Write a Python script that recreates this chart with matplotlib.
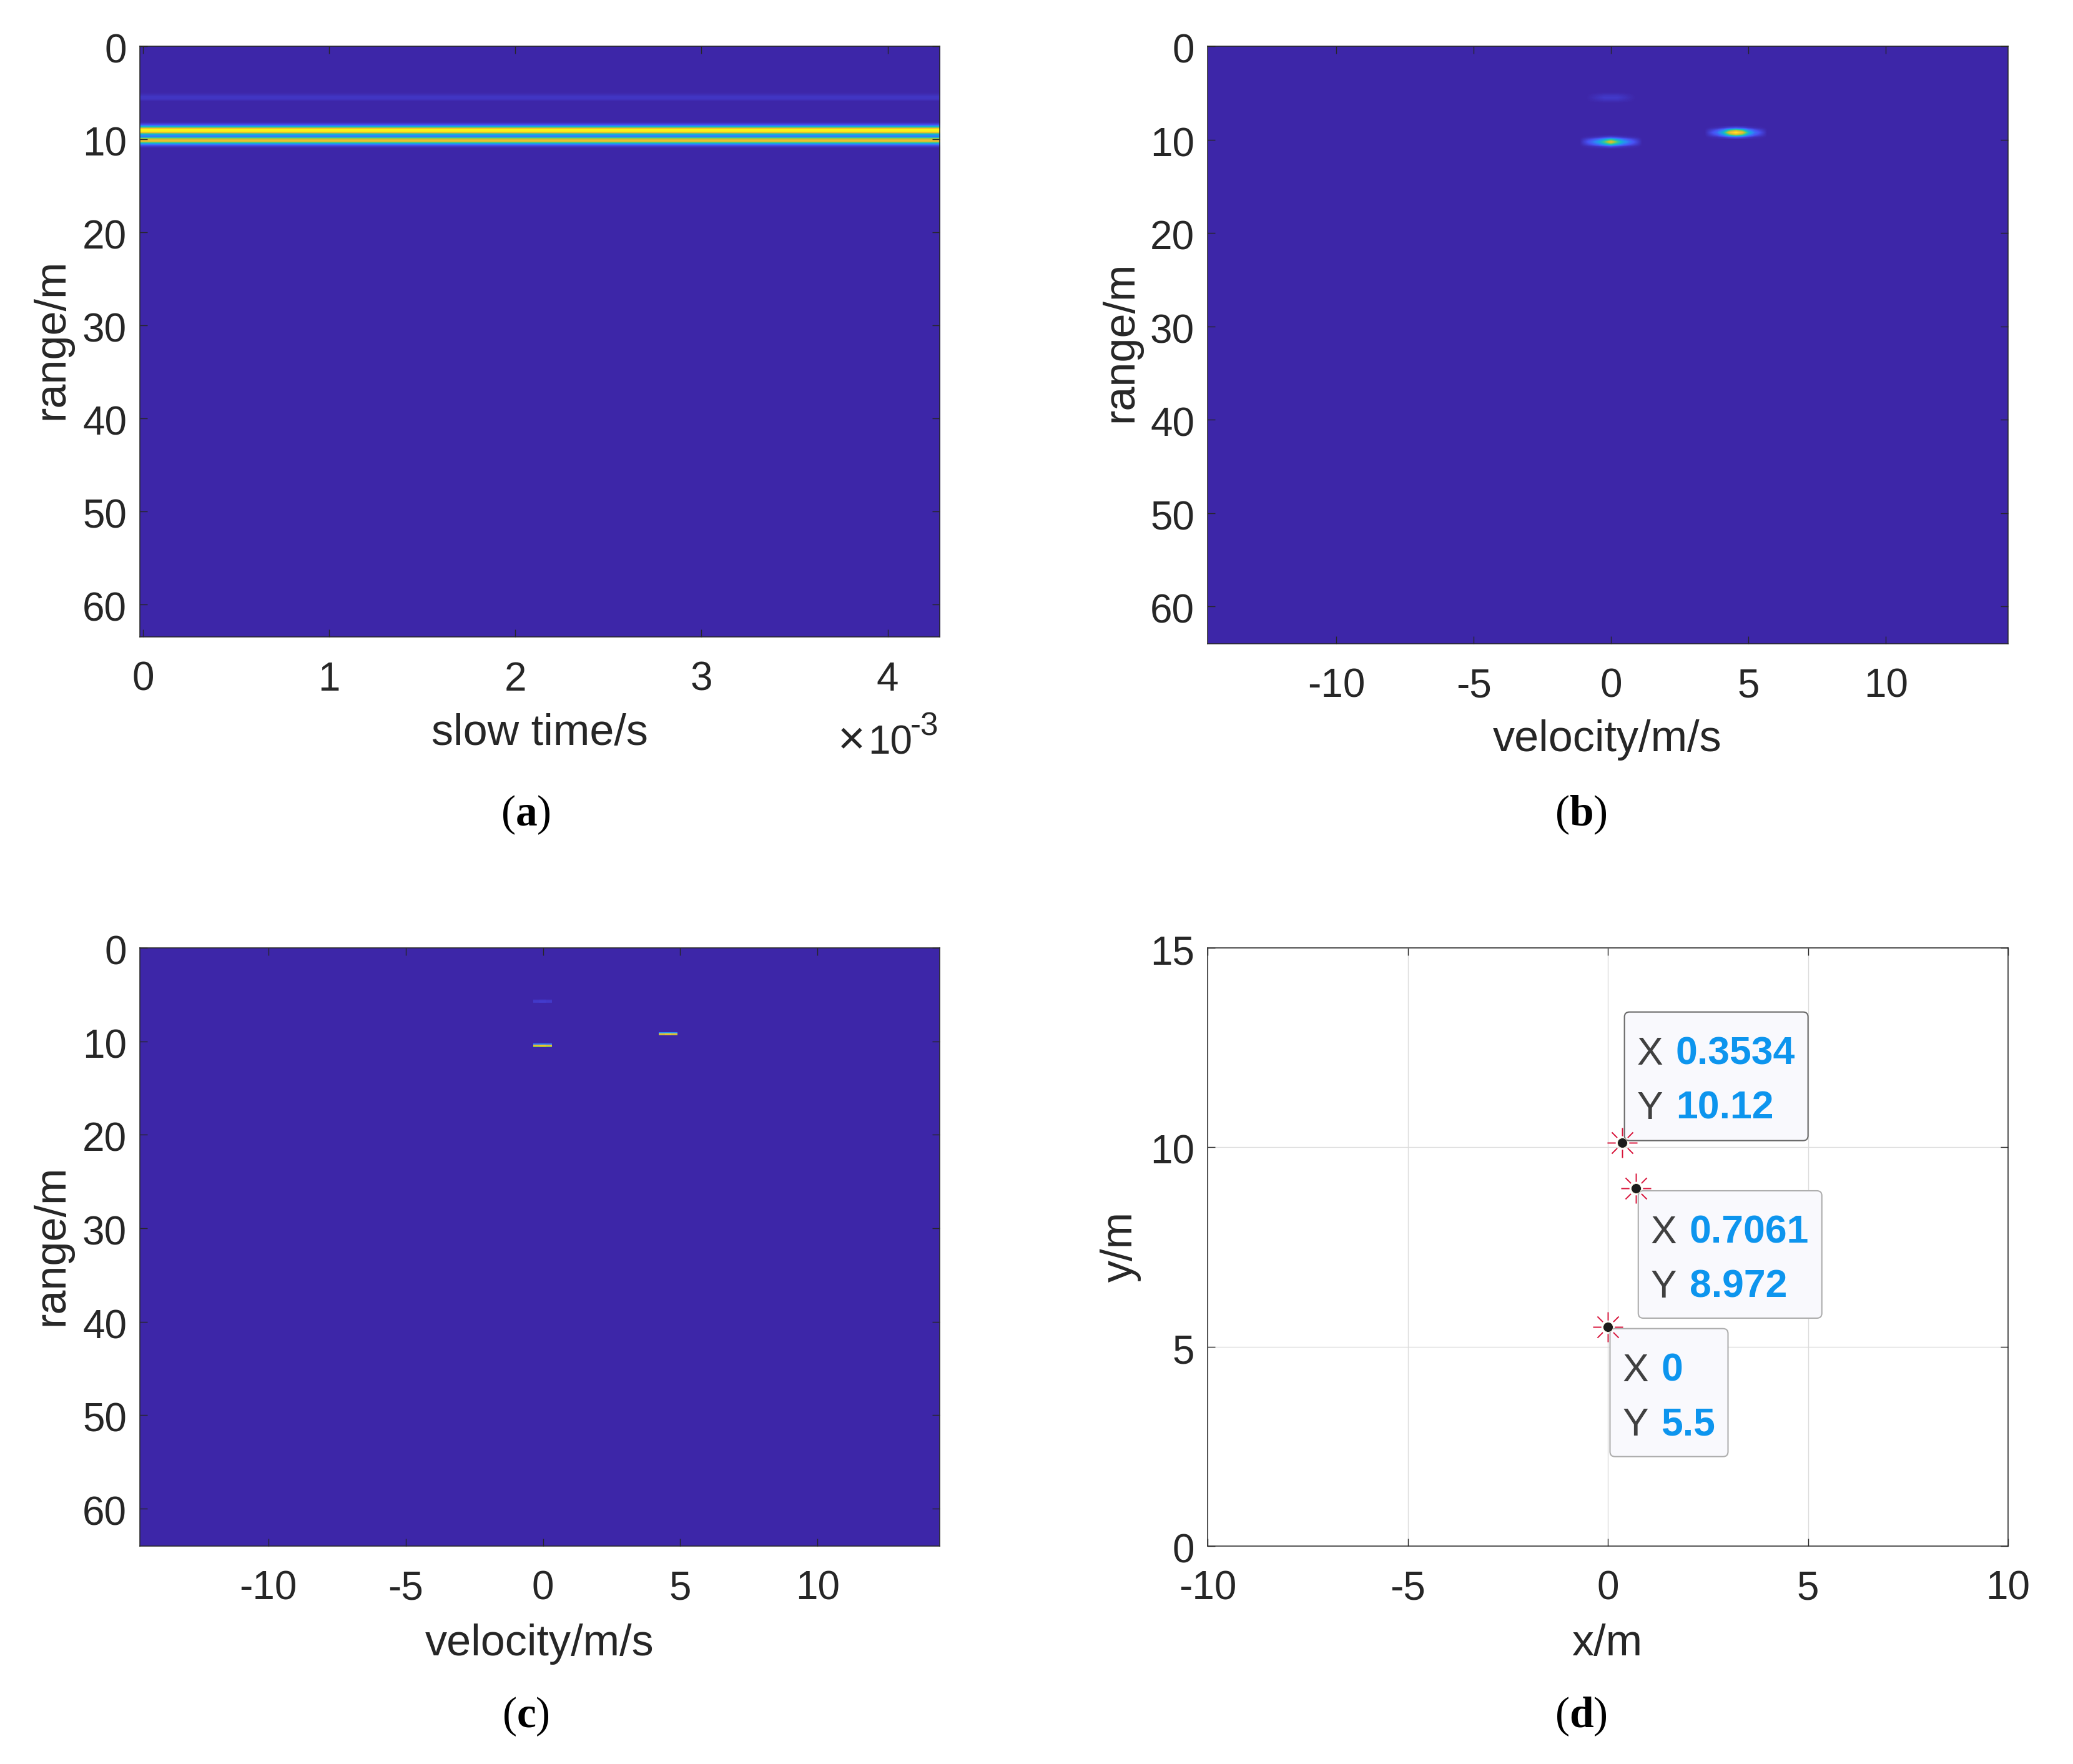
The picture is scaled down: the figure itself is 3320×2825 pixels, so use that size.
import matplotlib
matplotlib.use('Agg')
import matplotlib.pyplot as plt
import numpy as np
from matplotlib.colors import LinearSegmentedColormap
from matplotlib.patches import FancyBboxPatch
from matplotlib.path import Path
from matplotlib.transforms import IdentityTransform, ScaledTranslation

plt.rcParams['font.family'] = ['Liberation Sans', 'DejaVu Sans']
plt.rcParams['axes.unicode_minus'] = False
plt.rcParams['mathtext.fontset'] = 'custom'
plt.rcParams['mathtext.rm'] = 'Liberation Serif'
plt.rcParams['mathtext.bf'] = 'Liberation Serif:bold'

# panel a: range profile, same for all slow time samples
range_a = [5.25, 5.5, 5.75, 8.25, 8.5, 8.75, 9.0, 9.25, 9.5, 9.75, 10.0, 10.25, 10.5, 10.75]
amp_a = [0.02, 0.05, 0.04, 0.01, 0.12, 0.45, 1.0, 0.95, 0.38, 0.2, 0.65, 0.8, 0.35, 0.08]

# panel b: range-doppler spots
targets_v = [0.0, 4.5, 0.0]
targets_r = [10.25, 9.25, 5.5]
spot_near = [0.1, 0.2, 0.33, 0.55, 0.78, 0.55, 0.33, 0.2, 0.1]
spot_far = [0.1, 0.2, 0.42, 0.8, 1.0, 0.8, 0.42, 0.2, 0.1]
spot_weak = [0.0, 0.02, 0.04, 0.06, 0.06, 0.06, 0.04, 0.02, 0.0]
spot_rows = [0.12, 0.65, 1.0, 0.65, 0.12]

# panel c: thresholded cells
cfar_v = [[-0.23, 0.0, 0.23], [4.3, 4.55, 4.78], [-0.23, 0.0, 0.23]]
cfar_r = [10.4, 9.2, 5.65]
cfar_amp = [[0.75, 0.8, 0.75], [0.88, 0.95, 0.88], [0.06, 0.07, 0.06]]
cfar_rows = [0.3, 1.0, 0.8]

# panel d: detected points
pts_x = [0.3534, 0.7061, 0]
pts_y = [10.12, 8.972, 5.5]
pts_xt = ['0.3534', '0.7061', '0']
pts_yt = ['10.12', '8.972', '5.5']

parula = LinearSegmentedColormap.from_list('parula', [
    (0.2422, 0.1504, 0.6603), (0.2810, 0.3228, 0.9579), (0.1786, 0.5289, 0.9682),
    (0.0689, 0.6948, 0.8394), (0.2161, 0.7843, 0.5923), (0.6720, 0.7793, 0.2227),
    (0.9184, 0.7308, 0.1890), (0.9970, 0.8100, 0.1600), (0.9769, 0.9839, 0.0805)])

W, H = 3320, 2825
INK = '#262626'
fig = plt.figure(figsize=(W / 100, H / 100), dpi=100)


def make_axes(l, t, r, b):
    ax = fig.add_axes([l / W, 1 - b / H, (r - l) / W, (b - t) / H])
    for s in ax.spines.values():
        s.set_linewidth(1.1)
        s.set_color(INK)
    ax.tick_params(axis='x', direction='in', length=8.5, width=1, color=INK, labelcolor=INK,
                   labelsize=46, pad=28, top=True)
    ax.tick_params(axis='y', direction='in', length=8.5, width=1, color=INK, labelcolor=INK,
                   labelsize=46, pad=15, right=True)
    return ax


def shift_ylabels(ax):
    # matlab sets y tick labels a bit lower than the tick
    for lab in ax.get_yticklabels():
        lab.set_transform(lab.get_transform() + ScaledTranslation(0, -3 / 100, fig.dpi_scale_trans))


def label(x, y, s, rot=0, size=50.5, **kw):
    fig.text(x / W, 1 - y / H, s, rotation=rot, fontsize=size, ha='center', va='center', color=INK, **kw)


def caption(x, y, s):
    fig.text(x / W, 1 - y / H, r'$(\mathbf{%s})$' % s, fontsize=50, ha='center', va='center', color='black')


VLIM = (-14.68, 14.45)
RLIM = (64, 0)
RSTEP = 0.25
VSTEP = 0.2275
n_r = 260
n_v = 128

# (a)
ax = make_axes(224, 74, 1505, 1020)
rows = np.zeros((n_r, 2))
for r, a in zip(range_a, amp_a):
    rows[int(round(r / RSTEP)), :] = a
ax.imshow(rows, cmap=parula, vmin=0, vmax=1, aspect='auto', interpolation='bilinear',
          extent=(-0.017, 4.28, n_r * RSTEP - RSTEP / 2, -RSTEP / 2))
ax.set_xlim(-0.017, 4.28)
ax.set_ylim(63.5, 0)
ax.set_xticks([0, 1, 2, 3, 4])
ax.set_yticks(range(0, 70, 10))
shift_ylabels(ax)
label(864, 1175, 'slow time/s')
label(83, 543, 'range/m', rot=90)
fig.text(1342 / W, 1 - 1207 / H, '×', fontsize=54, color=INK, va='baseline')
fig.text(1390 / W, 1 - 1207 / H, '10', fontsize=46, color=INK, va='baseline')
fig.text(1458 / W, 1 - 1177 / H, '-3', fontsize=37, color=INK, va='baseline')
caption(842, 1305, 'a')

# (b)
ax = make_axes(1934, 74, 3216, 1031)
rd = np.zeros((n_r, n_v))
v0 = VLIM[0] + VSTEP / 2
for v, r, prof in zip(targets_v, targets_r, [spot_near, spot_far, spot_weak]):
    ic = int(round((v - v0) / VSTEP))
    ir = int(round(r / RSTEP))
    for k, w in enumerate(spot_rows):
        rd[ir + k - 2, ic - 4:ic + 5] = np.array(prof) * w
ax.imshow(rd, cmap=parula, vmin=0, vmax=1, aspect='auto', interpolation='bilinear',
          extent=(VLIM[0], VLIM[0] + n_v * VSTEP, n_r * RSTEP - RSTEP / 2, -RSTEP / 2))
ax.set_xlim(*VLIM)
ax.set_ylim(*RLIM)
ax.set_xticks([-10, -5, 0, 5, 10])
ax.set_yticks(range(0, 70, 10))
shift_ylabels(ax)
label(2574, 1185, 'velocity/m/s')
label(1795, 547, 'range/m', rot=90)
caption(2532, 1305, 'b')

# (c)
ax = make_axes(224, 1518, 1505, 2476)
fine = 0.125
cf = np.zeros((int(65 / fine), n_v))
for vs, r, amps in zip(cfar_v, cfar_r, cfar_amp):
    for v, a in zip(vs, amps):
        col = int((v - VLIM[0]) / VSTEP)
        for k, w in enumerate(cfar_rows):
            cf[int(r / fine) + k - 1, col] = a * w
ax.imshow(cf, cmap=parula, vmin=0, vmax=1, aspect='auto', interpolation='nearest',
          extent=(VLIM[0], VLIM[0] + n_v * VSTEP, 65, 0))
ax.set_xlim(*VLIM)
ax.set_ylim(*RLIM)
ax.set_xticks([-10, -5, 0, 5, 10])
ax.set_yticks(range(0, 70, 10))
shift_ylabels(ax)
label(864, 2633, 'velocity/m/s')
label(83, 1994, 'range/m', rot=90)
caption(842, 2749, 'c')

# (d)
ax = make_axes(1934, 1518, 3216, 2476)
ax.set_xlim(-10, 10)
ax.set_ylim(0, 15)
ax.set_xticks([-10, -5, 0, 5, 10])
ax.set_yticks([0, 5, 10, 15])
shift_ylabels(ax)
ax.grid(color='#dcdcdc', linewidth=1)
ax.set_axisbelow(True)
label(2574, 2633, 'x/m')
label(1795, 1996, 'y/m', rot=90)
caption(2532, 2749, 'd')

# burst around each data tip point
burst_v, burst_c = [], []
for dx, dy in [(1, 0), (-1, 0), (0, 1), (0, -1)]:
    burst_v += [(dx * 0.45, dy * 0.45), (dx * 1.0, dy * 1.0)]
    burst_c += [Path.MOVETO, Path.LINETO]
for dx, dy in [(1, 1), (-1, 1), (1, -1), (-1, -1)]:
    burst_v += [(dx * 0.35, dy * 0.35), (dx * 0.71, dy * 0.71)]
    burst_c += [Path.MOVETO, Path.LINETO]
burst = Path(burst_v, burst_c)

tips = [(4, 3, 294, 206, '#6a6a6a'), (3.5, -208, 294, 204, '#aeaeae'), (3.5, -208, 189, 205, '#aeaeae')]
fig.canvas.draw()
for x, y, xt, yt, (dx, dy, w, h, edge) in zip(pts_x, pts_y, pts_xt, pts_yt, tips):
    px, py = ax.transData.transform((x, y))
    bx, by = px + dx, py + dy
    box = FancyBboxPatch((bx + 6, by + 6), w - 12, h - 12, boxstyle='round,pad=6,rounding_size=8',
                         transform=IdentityTransform(), facecolor='#f9f9fd', edgecolor=edge,
                         linewidth=1.5, zorder=5, clip_on=False)
    ax.add_patch(box)
    top = by + h
    ax.text(bx + 20, top - 84, 'X', transform=IdentityTransform(), fontsize=45, color='#404040', va='baseline', zorder=6)
    ax.text(bx + 82, top - 84, xt, transform=IdentityTransform(), fontsize=45, color='#0d95ee', weight='bold', va='baseline', zorder=6)
    ax.text(bx + 20, top - 171, 'Y', transform=IdentityTransform(), fontsize=45, color='#404040', va='baseline', zorder=6)
    ax.text(bx + 82, top - 171, yt, transform=IdentityTransform(), fontsize=45, color='#0d95ee', weight='bold', va='baseline', zorder=6)

ax.plot(pts_x, pts_y, linestyle='none', marker=burst, markersize=34.6, markeredgecolor='#d8143a',
        markeredgewidth=1.4, fillstyle='none', zorder=7)
ax.plot(pts_x, pts_y, linestyle='none', marker='o', markersize=11.5, markerfacecolor='#1c1c1c',
        markeredgecolor='#fff7e0', markeredgewidth=0.6, zorder=8)

fig.savefig('out.png', dpi=100)
